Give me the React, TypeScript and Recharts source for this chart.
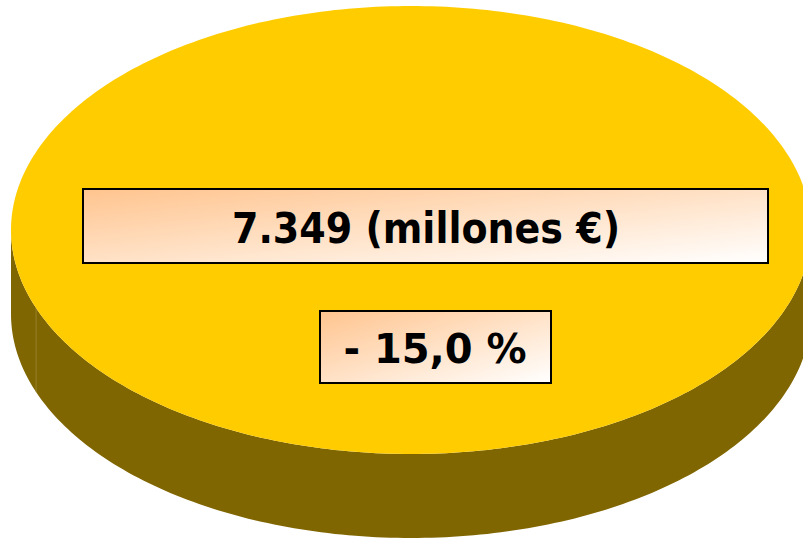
import { PieChart, Pie } from 'recharts';

// importe total y variación interanual
const categories = ['Total'];
const values = [7349];
const changes = [-15.0];
const unitText = '(millones €)';

const data = categories.map((name, i) => ({ name, value: values[i], change: changes[i] }));

const TOP_COLOR = '#FFCC00';
const SIDE_COLOR = '#806600';
const TILT = 0.56;
const DEPTH = 84;

const fmtValue = (n: number) => String(Math.round(n)).replace(/\B(?=(\d{3})+(?!\d))/g, '.');
const fmtChange = (n: number) => `${n < 0 ? '-' : '+'} ${Math.abs(n).toFixed(1).replace('.', ',')} %`;

function Slice3D(props: any) {
  const { cx, cy, outerRadius, startAngle, endAngle, fill, payload } = props;
  const rx = outerRadius;
  const ry = outerRadius * TILT;
  const pt = (a: number, dy = 0) => {
    const r = (a * Math.PI) / 180;
    return `${(cx + rx * Math.cos(r)).toFixed(2)},${(cy - ry * Math.sin(r) + dy).toFixed(2)}`;
  };
  const lo = Math.min(startAngle, endAngle);
  const hi = Math.max(startAngle, endAngle);
  const full = hi - lo >= 359.99;

  const top: string[] = [];
  for (let a = lo; a <= hi; a += 1) top.push(pt(a));
  const topPath = full ? `M${top.join('L')}Z` : `M${cx},${cy}L${top.join('L')}Z`;

  // front side band (lower half of the ellipse)
  const s0 = Math.max(lo, 180);
  const s1 = Math.min(hi, 360);
  let sidePath = '';
  if (s1 > s0) {
    const upper: string[] = [];
    const lower: string[] = [];
    for (let a = s0; a <= s1; a += 1) {
      upper.push(pt(a));
      lower.unshift(pt(a, DEPTH));
    }
    sidePath = `M${upper.join('L')}L${lower.join('L')}Z`;
  }
  const seamA = 200.4;
  const [sx, sy] = pt(seamA).split(',').map(Number);

  return (
    <g>
      <defs>
        <linearGradient id="boxGrad" x1="0" y1="0" x2="1" y2="1">
          <stop offset="0%" stopColor="#FFC48E" />
          <stop offset="100%" stopColor="#FFFFFF" />
        </linearGradient>
      </defs>
      {sidePath && <path d={sidePath} fill={SIDE_COLOR} />}
      <line x1={sx} y1={sy} x2={sx} y2={sy + DEPTH} stroke="#A08C40" strokeWidth={1} strokeOpacity={0.7} />
      <path d={topPath} fill={fill} />

      <rect x={cx - 328} y={cy - 41} width={685} height={74} fill="url(#boxGrad)" stroke="#000" strokeWidth={2} />
      <text
        x={cx + 15}
        y={cy + 13}
        textAnchor="middle"
        fontFamily="'DejaVu Sans Condensed', 'DejaVu Sans', sans-serif"
        fontWeight="bold"
        fontSize={42}
        textLength={388}
        lengthAdjust="spacingAndGlyphs"
        fill="#000"
      >
        {`${fmtValue(payload.value)} ${unitText}`}
      </text>

      <rect x={cx - 91} y={cy + 81} width={231} height={72} fill="url(#boxGrad)" stroke="#000" strokeWidth={2} />
      <text
        x={cx + 24}
        y={cy + 133}
        textAnchor="middle"
        fontFamily="'DejaVu Sans', sans-serif"
        fontWeight="bold"
        fontSize={40}
        fill="#000"
      >
        {fmtChange(payload.change)}
      </text>
    </g>
  );
}

export default function App() {
  return (
    <div style={{ width: 803, height: 542, background: '#fff' }}>
      <style>{'body{margin:0}'}</style>
      <PieChart width={803} height={542} margin={{ top: 0, right: 0, bottom: 0, left: 0 }}>
        <Pie
          data={data}
          dataKey="value"
          nameKey="name"
          cx={411}
          cy={230}
          innerRadius={0}
          outerRadius={400}
          startAngle={0}
          endAngle={360}
          fill={TOP_COLOR}
          stroke="none"
          shape={Slice3D}
          isAnimationActive={false}
        />
      </PieChart>
    </div>
  );
}
